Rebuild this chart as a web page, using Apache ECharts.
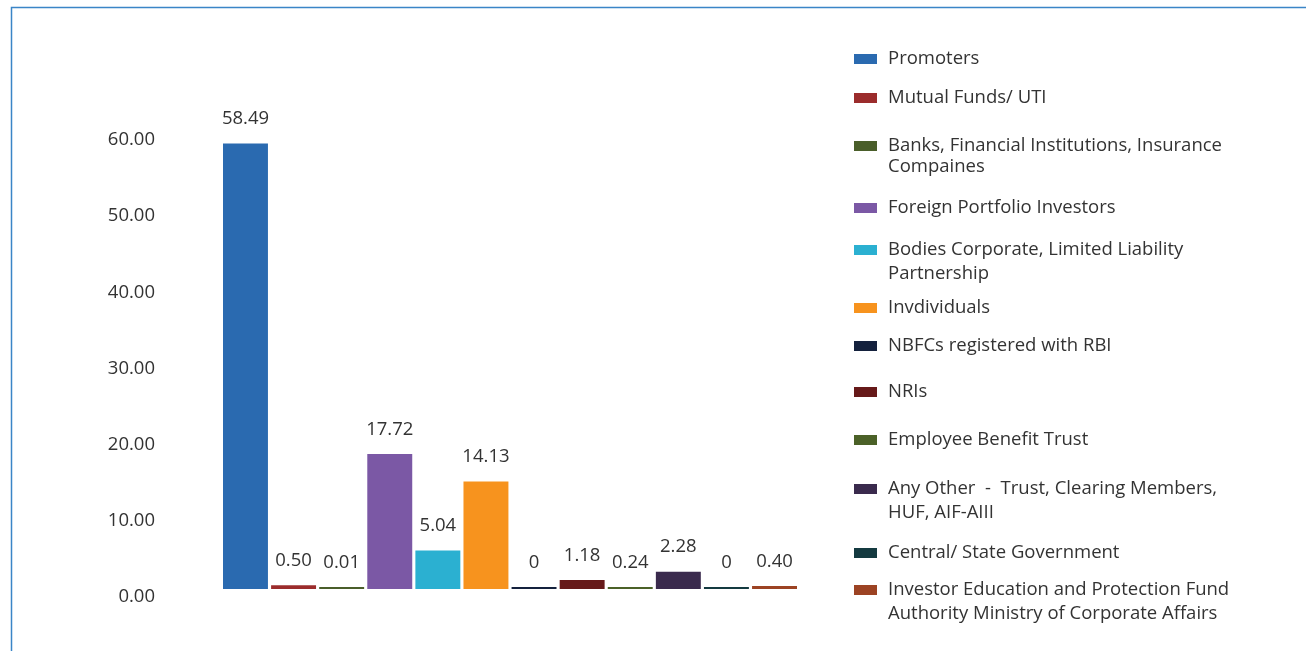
<!DOCTYPE html>
<html>
<head>
<meta charset="utf-8">
<title>Shareholding Pattern</title>
<script src="https://cdn.jsdelivr.net/npm/echarts@6/dist/echarts.min.js"></script>
<style>
  html, body { margin: 0; padding: 0; background: #ffffff; }
  #chart { width: 1306px; height: 651px; }
</style>
</head>
<body>
<div id="chart"></div>
<script>
// Shareholder categories (legend text, line breaks as shown in the legend)
const investorCategories = [
  'Promoters',
  'Mutual Funds/ UTI',
  'Banks, Financial Institutions, Insurance\nCompaines',
  'Foreign Portfolio Investors',
  'Bodies Corporate, Limited Liability\nPartnership',
  'Invdividuals',
  'NBFCs registered with RBI',
  'NRIs',
  'Employee Benefit Trust',
  'Any Other  -  Trust, Clearing Members,\nHUF, AIF-AIII',
  'Central/ State Government',
  'Investor Education and Protection Fund\nAuthority Ministry of Corporate Affairs'
];

// Shareholding (%) for each category
const holdingPercent = [58.49, 0.50, 0.01, 17.72, 5.04, 14.13, 0, 1.18, 0.24, 2.28, 0, 0.40];

// Y axis range and step
const yAxisMin = 0;
const yAxisMax = 60;
const yAxisStep = 10;

// Bar colours, one per category
const categoryColors = [
  '#2a6ab0', '#9b2c2c', '#4a5e2a', '#7b58a5', '#2bb0d1', '#f7931e',
  '#14213d', '#661919', '#4b6128', '#3a2a4d', '#143a40', '#9c4323'
];

// Vertical centre of each legend marker, and line height of each legend entry
const legendMarkerY = [59, 98, 146, 208, 250, 308, 346, 392, 440, 489, 553, 590];
const legendLineHeight = [22, 22, 21, 22, 24, 22, 22, 22, 22, 24, 22, 24];

const FONT = '"Open Sans", Lato, sans-serif';
const FONT_SIZE = 18.5;
const TEXT_COLOR = '#333333';

const chart = echarts.init(document.getElementById('chart'), null, { renderer: 'canvas' });

const series = investorCategories.map((name, i) => ({
  name: name,
  type: 'bar',
  data: [holdingPercent[i]],
  barGap: '7%',
  barCategoryGap: '0%',
  barMinHeight: 2,
  itemStyle: { color: categoryColors[i] },
  label: {
    show: true,
    position: 'top',
    distance: 15,
    fontFamily: FONT,
    fontSize: FONT_SIZE,
    color: TEXT_COLOR,
    formatter: p => (p.value === 0 ? '0' : p.value.toFixed(2))
  },
  emphasis: { disabled: true },
  animation: false
}));

// One legend block per entry so each marker sits on its own row;
// wrapped entries get a leading blank line so the marker lines up with the first line.
const legends = investorCategories.map((name, i) => {
  const lh = legendLineHeight[i];
  const lines = name.split('\n').length;
  const multi = lines > 1;
  const half = multi ? (lines * 2 - 1) * lh / 2 : lh / 2;
  return {
    data: [name],
    orient: 'vertical',
    left: 854,
    top: legendMarkerY[i] - half,
    padding: 0,
    icon: 'rect',
    itemWidth: 23,
    itemHeight: 10,
    selectedMode: false,
    formatter: n => (multi ? '\n' + n : n),
    textStyle: {
      fontFamily: FONT,
      fontSize: FONT_SIZE,
      color: TEXT_COLOR,
      lineHeight: lh,
      padding: [0, 0, 0, 6]
    }
  };
});

chart.setOption({
  backgroundColor: '#ffffff',
  animation: false,
  textStyle: { fontFamily: FONT },
  grid: { left: 223, right: 509, top: 132, bottom: 62, containLabel: false },
  legend: legends,
  xAxis: {
    type: 'category',
    data: [''],
    axisLine: { show: false },
    axisTick: { show: false },
    axisLabel: { show: false },
    splitLine: { show: false }
  },
  yAxis: {
    type: 'value',
    min: yAxisMin,
    max: yAxisMax,
    interval: yAxisStep,
    axisLine: { show: false },
    axisTick: { show: false },
    splitLine: { show: false },
    axisLabel: {
      margin: 68,
      fontFamily: FONT,
      fontSize: FONT_SIZE,
      color: TEXT_COLOR,
      verticalAlign: 'top',
      lineHeight: 16,
      formatter: v => v.toFixed(2)
    }
  },
  series: series,
  graphic: [{
    type: 'rect',
    silent: true,
    shape: { x: 11.5, y: 7.5, width: 1400, height: 700 },
    style: { fill: 'none', stroke: '#3a85c7', lineWidth: 1.5 }
  }]
});
</script>
</body>
</html>
